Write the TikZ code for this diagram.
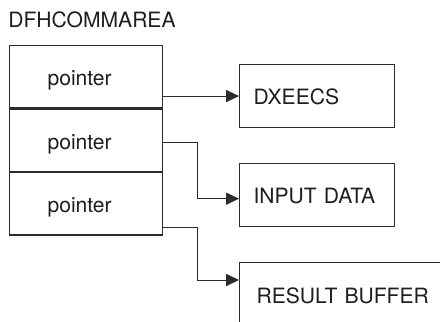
\documentclass[tikz,border=0pt]{standalone}
\usepackage{fontspec}
\setmainfont{TeX Gyre Heros}
\usetikzlibrary{arrows.meta,positioning,calc}
\definecolor{cLine}{HTML}{2B2B2B}
\definecolor{cText}{HTML}{1E1E1E}
\tikzset{
  txt/.style={font=\fontsize{15}{18}\selectfont, text=cText},
  cell/.style={txt, draw=cLine, line width=0.8pt, minimum width=38.25mm,
               minimum height=15.6mm, inner xsep=9.5mm, text width=19.25mm,
               text height=4.4mm, text depth=0pt, align=left, anchor=north},
  target/.style={txt, draw=cLine, line width=0.8pt, minimum width=38.75mm,
                 minimum height=15.75mm, inner xsep=3.5mm, text width=31.75mm,
                 text height=4.4mm, text depth=0pt, align=left, anchor=north west},
  arr/.style={-{Triangle[length=3.2mm, width=3mm]}, line width=0.7pt, cLine}
}

\begin{document}
\begin{tikzpicture}[x=0.25mm, y=-0.25mm]
\clip (0,0) rectangle (440,322);
% the commarea and its three pointers
\node[txt, anchor=base west, inner sep=0pt] (title) at (8,28) {DFHCOMMAREA};
\node[cell, anchor=north west] (ptrA) at (9,45) {pointer};
\node[cell, below=0pt of ptrA] (ptrB) {pointer};
\node[cell, below=0pt of ptrB] (ptrC) {pointer};
% what they point at
\node[target] (dxeecs) at (239,64) {DXEECS};
\node[target] (input) at (239,163) {INPUT DATA};
\node[target, minimum width=60mm, minimum height=16mm, inner xsep=4.25mm,
      text width=51.5mm] (result) at (239,262) {RESULT BUFFER};
\draw[arr] (ptrA.east |- dxeecs.west) -- (dxeecs.west);
\draw[arr] ([yshift=-0.5mm]ptrB.east) -- ++(34,0) |- ([yshift=-0.9mm]input.west);
\draw[arr] ([yshift=2mm]ptrC.south east) -- ++(34,0) |- ([yshift=-4.5mm]result.north west);
\end{tikzpicture}
\end{document}
